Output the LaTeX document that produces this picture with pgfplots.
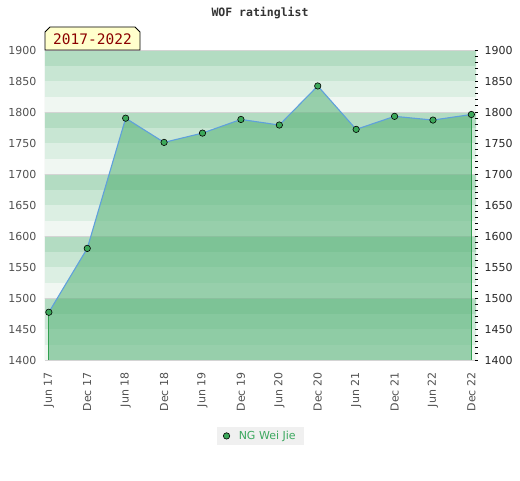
\documentclass[border=0pt]{standalone}
\usepackage{pgfplots}
\pgfplotsset{compat=1.18}
\usepackage{fontspec}
\setmainfont{DejaVu Sans}
\newfontfamily\monofont{DejaVu Sans Mono}
\definecolor{bA}{RGB}{240,247,242}
\definecolor{bB}{RGB}{220,239,227}
\definecolor{bC}{RGB}{200,230,211}
\definecolor{bD}{RGB}{179,220,194}
\definecolor{areafill}{RGB}{83,177,117}
\definecolor{linecol}{RGB}{95,160,220}
\definecolor{mk}{RGB}{60,168,90}
\definecolor{edgegreen}{RGB}{50,160,80}
\definecolor{lbl}{RGB}{80,80,80}
\definecolor{borderc}{RGB}{212,212,212}
\definecolor{badgefill}{RGB}{255,255,204}
\definecolor{badgetext}{RGB}{139,0,0}
\definecolor{legbg}{RGB}{240,240,240}
\definecolor{legtext}{RGB}{60,168,95}
\newcommand\bands[5]{%
  \fill[bA] (axis cs:-1,#1) rectangle (axis cs:12,#2);
  \fill[bB] (axis cs:-1,#2) rectangle (axis cs:12,#3);
  \fill[bC] (axis cs:-1,#3) rectangle (axis cs:12,#4);
  \fill[bD] (axis cs:-1,#4) rectangle (axis cs:12,#5);
}
\pgfplotstableread{
x y
0 1477
1 1580
2 1790
3 1751
4 1766
5 1788
6 1779
7 1842
8 1772
9 1793
10 1787
11 1796
}\ratings
\begin{document}
\begin{tikzpicture}[x=1pt,y=1pt]
\begin{axis}[
  at={(45pt,120pt)}, anchor=south west,
  scale only axis, width=431pt, height=310pt,
  xmin=-0.1, xmax=11.12, ymin=1400, ymax=1900,
  axis line style={draw=none},
  ytick={1400,1450,...,1900},
  xtick={0,...,11},
  xticklabels={Jun 17,Dec 17,Jun 18,Dec 18,Jun 19,Dec 19,Jun 20,Dec 20,Jun 21,Dec 21,Jun 22,Dec 22},
  major tick length=0pt,
  tick style={draw=none},
  /pgf/number format/assume math mode=true,
  /pgf/number format/1000 sep={},
  yticklabel style={font=\fontsize{11}{13}\selectfont, text=lbl, xshift=-5pt},
  xticklabel style={font=\fontsize{11}{13}\selectfont, text=lbl, yshift=-9pt, rotate=90, anchor=east},
  legend style={at={(0.5,-0.245)}, anchor=center, fill=legbg, draw=none,
    font=\fontsize{11}{13}\selectfont, text=legtext, inner xsep=6pt, inner ysep=2.5pt},
  legend cell align=left,
]
\bands{1400}{1425}{1450}{1475}{1500}
\bands{1500}{1525}{1550}{1575}{1600}
\bands{1600}{1625}{1650}{1675}{1700}
\bands{1700}{1725}{1750}{1775}{1800}
\bands{1800}{1825}{1850}{1875}{1900}
\pgfplotsinvokeforeach{1500,1600,1700,1800}{
  \draw[borderc, line width=0.8pt] (axis cs:-1,#1) -- (axis cs:12,#1);
}
\addplot[draw=none, fill=areafill, fill opacity=0.56, forget plot] table[x=x,y=y]{\ratings} \closedcycle;
\addplot[edgegreen, line width=1pt, forget plot] coordinates {(0,1400) (0,1477)};
\addplot[edgegreen, line width=1pt, forget plot] coordinates {(11,1400) (11,1796)};
\addplot[linecol, line width=1.1pt, forget plot] table[x=x,y=y]{\ratings};
\addplot[only marks, mark=*, mark size=3.2pt, mark options={fill=mk, draw=black, line width=0.6pt}] table[x=x,y=y]{\ratings};
\addlegendentry{\hspace{7pt}NG Wei Jie}
\draw[borderc, line width=1pt] (rel axis cs:0,0) -- (rel axis cs:1,0);
\draw[borderc, line width=1pt] (rel axis cs:0,0) -- (rel axis cs:0,1) -- (rel axis cs:1,1);
\end{axis}
\begin{axis}[
  at={(45pt,120pt)}, anchor=south west,
  scale only axis, width=431pt, height=310pt,
  xmin=-0.1, xmax=11.12, ymin=1400, ymax=1900,
  axis x line=none, axis y line*=right,
  y axis line style={draw=none},
  ytick={1400,1450,...,1900},
  minor y tick num=4,
  tick style={black, line width=0.8pt},
  major tick length=3pt, minor tick length=3pt,
  tick align=center,
  /pgf/number format/assume math mode=true,
  /pgf/number format/1000 sep={},
  yticklabel style={font=\fontsize{11}{13}\selectfont, text=black!85, xshift=3.5pt},
]
\end{axis}
\node[font=\monofont\bfseries\fontsize{11.5}{13}\selectfont, text=black!80] at (260,467) {WOF ratinglist};
\draw[fill=badgefill, line width=0.8pt] (45,430) -- (45,448) -- (50,453) -- (135,453) -- (140,448) -- (140,430) -- cycle;
\node[font=\monofont\fontsize{14.5}{16}\selectfont, text=badgetext] at (92.5,441) {2017-2022};
\pgfresetboundingbox
\useasboundingbox (0,0) rectangle (520,480);
\end{tikzpicture}
\end{document}
